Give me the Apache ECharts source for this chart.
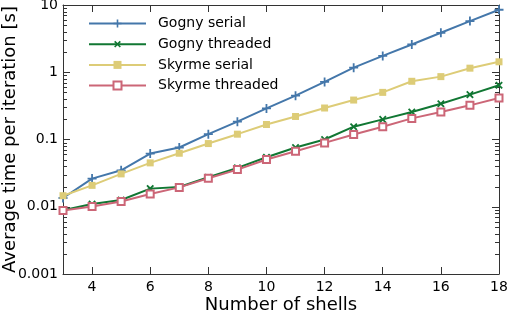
<!DOCTYPE html>
<html>
<head>
<meta charset="utf-8">
<script src="https://cdn.jsdelivr.net/npm/echarts@6/dist/echarts.min.js"></script>
<style>html,body{margin:0;padding:0;background:#fff;}#c{width:509px;height:312px;}</style>
</head>
<body>
<div id="c"></div>
<script>
const shells = [3,4,5,6,7,8,9,10,11,12,13,14,15,16,17,18];
const gognySerial   = [0.0135,0.0262,0.0348,0.0618,0.076,0.120,0.184,0.290,0.449,0.718,1.17,1.75,2.59,3.86,5.77,8.5];
const gognyThreaded = [0.0089,0.0110,0.0126,0.0186,0.0197,0.0274,0.0378,0.0545,0.076,0.100,0.155,0.199,0.256,0.340,0.465,0.640];
const skyrmeSerial  = [0.0146,0.0208,0.0308,0.0449,0.0625,0.087,0.120,0.167,0.220,0.294,0.386,0.502,0.734,0.861,1.15,1.43];
const skyrmeThreaded= [0.0088,0.0101,0.0120,0.0155,0.0194,0.0265,0.0357,0.0503,0.067,0.089,0.119,0.155,0.206,0.256,0.322,0.414];
const seriesNames = ['Gogny serial','Gogny threaded','Skyrme serial','Skyrme threaded'];
const minorTicks = [0.002,0.003,0.004,0.005,0.006,0.007,0.008,0.009,
  0.02,0.03,0.04,0.05,0.06,0.07,0.08,0.09,
  0.2,0.3,0.4,0.5,0.6,0.7,0.8,0.9,
  2,3,4,5,6,7,8,9];

const plusPath = 'path://M4,0H6V4H10V6H6V10H4V6H0V4H4Z';
const axisColor = '#333';
const font = 'DejaVu Sans';

function mk(name, data, color, symbol, size, extra) {
  return Object.assign({
    name: name, type: 'line',
    data: shells.map((s,i)=>[s, data[i]]),
    symbol: symbol, symbolSize: size,
    lineStyle: {color: color, width: 2},
    itemStyle: {color: color},
    z: 3
  }, extra || {});
}

const chart = echarts.init(document.getElementById('c'), null, {renderer:'canvas'});
const xCommon = {
  type: 'value', min: 3, max: 18, splitNumber: 7,
  axisLine: {show: true, lineStyle: {color: axisColor, width: 1}},
  axisTick: {show: true, inside: true, length: 7, lineStyle: {color: axisColor}},
  splitLine: {show: false}
};
const yCommon = {
  type: 'log', logBase: 10, min: 0.001, max: 10,
  axisLine: {show: true, lineStyle: {color: axisColor, width: 1}},
  axisTick: {show: true, inside: true, length: 7, lineStyle: {color: axisColor}},
  splitLine: {show: false}
};
chart.setOption({
  animation: false,
  backgroundColor: '#fff',
  grid: {left: 63, right: 10, top: 5, bottom: 38, containLabel: false, outerBoundsMode: 'none'},
  legend: {
    orient: 'vertical', left: 83, top: 11,
    itemWidth: 57, itemHeight: 10, itemGap: 5.7,
    data: seriesNames,
    textStyle: {fontFamily: font, fontSize: 14, color: '#000', padding: [0,0,0,7], lineHeight: 15}
  },
  xAxis: [
    Object.assign({}, xCommon, {
      position: 'bottom',
      name: 'Number of shells', nameLocation: 'middle', nameGap: 22, nameMoveOverlap: false,
      nameTextStyle: {fontFamily: font, fontSize: 18, color: '#000'},
      axisLabel: {fontFamily: font, fontSize: 14, color: '#000', margin: 6, showMinLabel: false}
    }),
    Object.assign({}, xCommon, {position: 'top', axisLabel: {show: false}})
  ],
  yAxis: [
    Object.assign({}, yCommon, {
      position: 'left',
      name: 'Average time per iteration [s]', nameLocation: 'middle', nameGap: 44, nameMoveOverlap: false,
      nameTextStyle: {fontFamily: font, fontSize: 18, color: '#000'},
      axisLabel: {fontFamily: font, fontSize: 14, color: '#000', margin: 5}
    }),
    Object.assign({}, yCommon, {position: 'right', axisLabel: {show: false}})
  ],
  series: [
    mk('Gogny serial', gognySerial, '#4477AA', plusPath, 9),
    mk('Gogny threaded', gognyThreaded, '#117733', plusPath, 9, {symbolRotate: 45}),
    mk('Skyrme serial', skyrmeSerial, '#DDCC77', 'rect', 7),
    mk('Skyrme threaded', skyrmeThreaded, '#CC6677', 'rect', 7,
       {itemStyle: {color: '#fff', borderColor: '#CC6677', borderWidth: 2}}),
    {
      type: 'custom', name: 'minor', silent: true, z: 2,
      data: minorTicks.map(v => [3, v]),
      renderItem: function (params, api) {
        const p = api.coord([api.value(0), api.value(1)]);
        const cs = params.coordSys;
        const y = Math.round(p[1]) + 0.5;
        return {type: 'group', children: [
          {type: 'line', shape: {x1: cs.x, y1: y, x2: cs.x + 4, y2: y}, style: {stroke: axisColor, lineWidth: 1}},
          {type: 'line', shape: {x1: cs.x + cs.width - 4, y1: y, x2: cs.x + cs.width, y2: y}, style: {stroke: axisColor, lineWidth: 1}}
        ]};
      }
    }
  ]
});
</script>
</body>
</html>
